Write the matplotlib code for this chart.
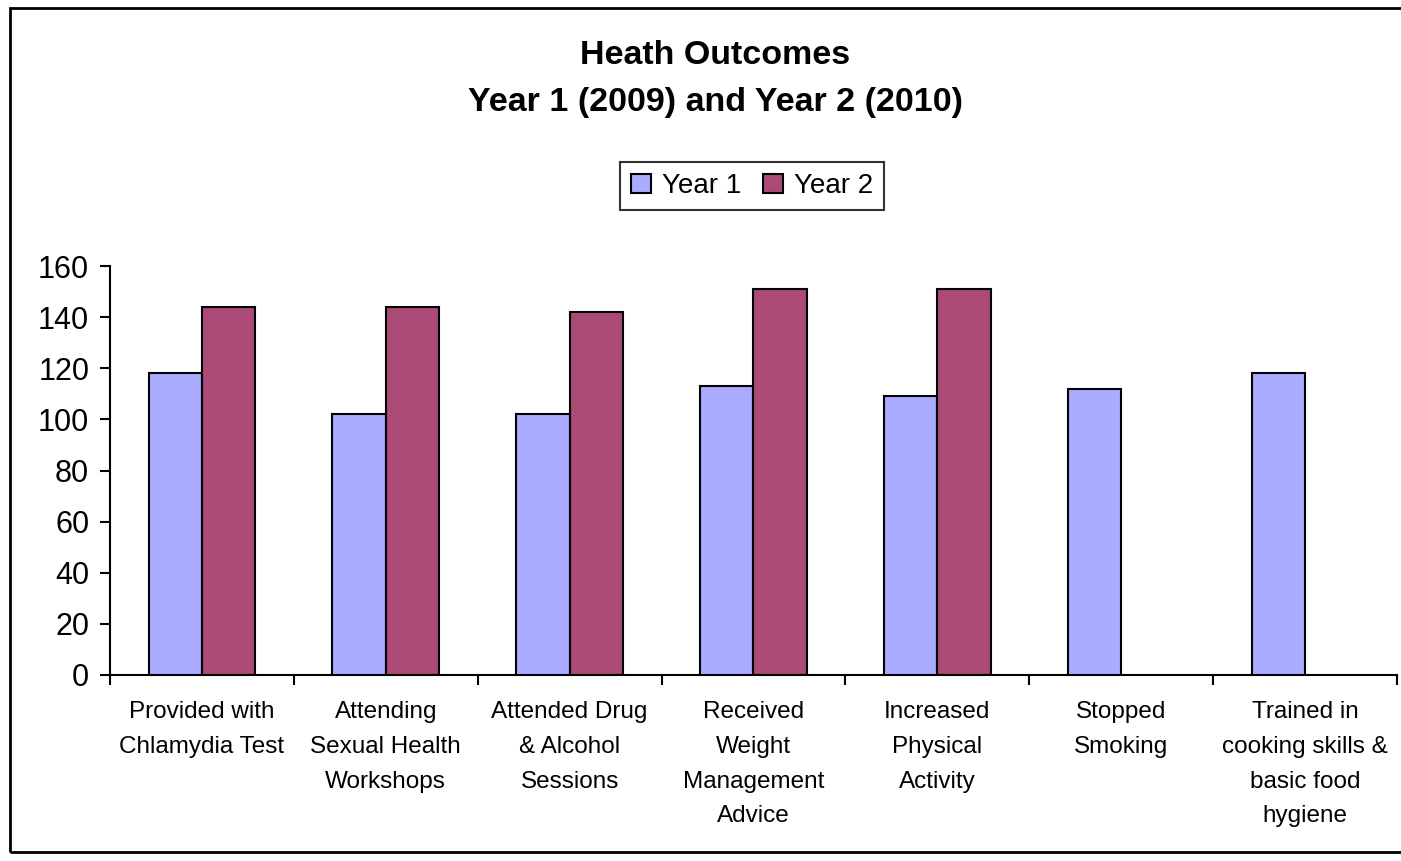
import matplotlib
matplotlib.use("Agg")
import matplotlib.pyplot as plt
from matplotlib.patches import Rectangle
import numpy as np

categories = ["Provided with\nChlamydia Test", "Attending\nSexual Health\nWorkshops",
              "Attended Drug\n& Alcohol\nSessions", "Received\nWeight\nManagement\nAdvice",
              "Increased\nPhysical\nActivity", "Stopped\nSmoking",
              "Trained in\ncooking skills &\nbasic food\nhygiene"]
year1 = [118, 102, 102, 113, 109, 112, 118]
year2 = [144, 144, 142, 151, 151, 0, 0]
series_names = ["Year 1", "Year 2"]
yticks = [0, 20, 40, 60, 80, 100, 120, 140, 160]

plt.rcParams['font.family'] = ['Liberation Sans', 'DejaVu Sans']

fig = plt.figure(figsize=(14.01, 8.61), dpi=100)
ax = fig.add_axes([110/1401, 1-675/861, (1397-110)/1401, (675-266)/861])

x = np.arange(len(categories))
w = 0.29
c1, c2 = "#A9ABFE", "#AB4977"
ax.bar(x - w/2, year1, w, color=c1, edgecolor="black", linewidth=1.5, label=series_names[0], zorder=3)
y2x = [xi + w/2 for xi, v in zip(x, year2) if v > 0]
y2v = [v for v in year2 if v > 0]
ax.bar(y2x, y2v, w, color=c2, edgecolor="black", linewidth=1.5, label=series_names[1], zorder=3)

ax.set_xlim(-0.5, len(categories) - 0.5)
ax.set_ylim(0, 160)
ax.set_yticks(yticks)
ax.set_yticklabels([str(t) for t in yticks], fontsize=22)
ax.set_xticks(np.arange(len(categories) + 1) - 0.5, minor=False)
ax.set_xticklabels([])
ax.set_xticks(x, minor=True)
ax.set_xticklabels(categories, minor=True, fontsize=17.5, linespacing=1.74, va="top")
ax.tick_params(axis="x", which="minor", length=0, pad=19)
ax.tick_params(axis="x", which="major", length=7, width=1.5, direction="out")
ax.tick_params(axis="y", length=7, width=1.5, direction="out", pad=8)
for s in ["top", "right"]:
    ax.spines[s].set_visible(False)
for s in ["left", "bottom"]:
    ax.spines[s].set_linewidth(1.5)

fig.text(715/1401, 1-56/861, "Heath Outcomes", ha="center", va="center",
         fontsize=24.5, fontweight="bold")
fig.text(715/1401, 1-102/861, "Year 1 (2009) and Year 2 (2010)", ha="center", va="center",
         fontsize=24.5, fontweight="bold")

leg = fig.legend(loc="center", bbox_to_anchor=(752/1401, 1-186/861), ncol=2, fontsize=20,
                 frameon=True, fancybox=False, edgecolor="black", handlelength=0.7,
                 handleheight=0.7, handletextpad=0.4, columnspacing=0.8, borderpad=0.4)
leg.get_frame().set_linewidth(1.5)

fig.patches.append(Rectangle((10/1401, 1-852/861), 1.1, (852-8)/861, transform=fig.transFigure,
                             fill=False, edgecolor="black", linewidth=2))

fig.savefig("out.png", dpi=100)
